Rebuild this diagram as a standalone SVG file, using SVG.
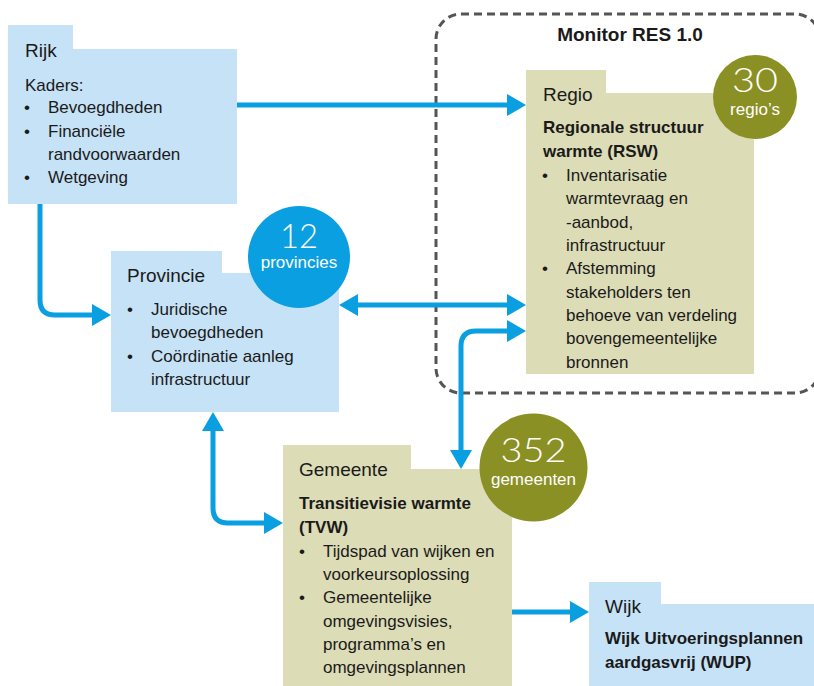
<svg xmlns="http://www.w3.org/2000/svg" width="814" height="686" viewBox="0 0 814 686">
<style>
text{font-family:"Liberation Sans",Arial,sans-serif;fill:#1a1a1a}
.t{font-size:19px}
.b{font-size:17px}
.bb{font-size:17px;font-weight:bold}
.blt{font-size:17px;text-anchor:middle}
.blue{fill:#c6e2f6}
.olive{fill:#dcdcb6}
.num{fill:#fff;text-anchor:middle;font-family:Lato,"Liberation Sans",sans-serif;font-weight:300}
.lbl{fill:#fff;text-anchor:middle;font-size:17px}
.ar{fill:none;stroke:#0a9fe0;stroke-width:5}
</style>
<defs>
<marker id="ah" markerUnits="userSpaceOnUse" markerWidth="20" markerHeight="24" refX="1" refY="12" orient="auto-start-reverse" viewBox="0 0 20 24">
<path d="M0,1 L19,12 L0,23 Z" fill="#0a9fe0"/>
</marker>
</defs>

<rect id="monitor-frame" x="436" y="14" width="384" height="379" rx="25" fill="none" stroke="#555" stroke-width="3" stroke-dasharray="8 5"/>
<text x="630" y="41" text-anchor="middle" style="font-size:19px;font-weight:bold">Monitor RES 1.0</text>

<g id="rijk">
<path class="blue" d="M8,25 H73 V49 H237 V204 H8 Z"/>
<text class="t" x="25" y="57">Rijk</text>
<text class="b" x="25" y="91">Kaders:</text>
<text class="blt" x="27" y="113">•</text><text class="b" x="48" y="113">Bevoegdheden</text>
<text class="blt" x="27" y="137">•</text><text class="b" x="48" y="137">Financiële</text>
<text class="b" x="48" y="160">randvoorwaarden</text>
<text class="blt" x="27" y="183">•</text><text class="b" x="48" y="183">Wetgeving</text>
</g>

<g id="regio">
<path class="olive" d="M526,70 H606 V93 H754 V374 H526 Z"/>
<text class="t" x="543" y="101">Regio</text>
<text class="bb" x="543" y="133">Regionale structuur</text>
<text class="bb" x="543" y="156.5">warmte (RSW)</text>
<text class="blt" x="545" y="181">•</text><text class="b" x="566" y="181">Inventarisatie</text>
<text class="b" x="566" y="204.3">warmtevraag en</text>
<text class="b" x="566" y="227.6">-aanbod,</text>
<text class="b" x="566" y="251">infrastructuur</text>
<text class="blt" x="545" y="274.3">•</text><text class="b" x="566" y="274.3">Afstemming</text>
<text class="b" x="566" y="297.6">stakeholders ten</text>
<text class="b" x="566" y="321">behoeve van verdeling</text>
<text class="b" x="566" y="344.3">bovengemeentelijke</text>
<text class="b" x="566" y="367.6">bronnen</text>
</g>
<g id="regio-count">
<circle cx="755" cy="97" r="42" fill="#8b9024"/>
<text class="num" x="755" y="92" style="font-size:33px" textLength="46" lengthAdjust="spacingAndGlyphs">30</text>
<text class="lbl" x="755" y="115">regio’s</text>
</g>

<g id="provincie">
<path class="blue" d="M111,251 H222 V273 H339 V412 H111 Z"/>
<text class="t" x="127" y="282">Provincie</text>
<text class="blt" x="130" y="315">•</text><text class="b" x="151" y="315">Juridische</text>
<text class="b" x="151" y="338.3">bevoegdheden</text>
<text class="blt" x="130" y="361.6">•</text><text class="b" x="151" y="361.6">Coördinatie aanleg</text>
<text class="b" x="151" y="385">infrastructuur</text>
</g>
<g id="provincie-count">
<circle cx="299" cy="257" r="51" fill="#0a9fe0"/>
<text class="num" x="299" y="248" style="font-size:33px" textLength="38" lengthAdjust="spacingAndGlyphs">12</text>
<text class="lbl" x="299" y="268">provincies</text>
</g>

<g id="gemeente">
<path class="olive" d="M283,445 H411 V469 H512 V686 H283 Z"/>
<text class="t" x="299" y="476">Gemeente</text>
<text class="bb" x="299" y="509">Transitievisie warmte</text>
<text class="bb" x="299" y="533">(TVW)</text>
<text class="blt" x="302" y="557">•</text><text class="b" x="323" y="557">Tijdspad van wijken en</text>
<text class="b" x="323" y="580">voorkeursoplossing</text>
<text class="blt" x="302" y="603">•</text><text class="b" x="323" y="603">Gemeentelijke</text>
<text class="b" x="323" y="627">omgevingsvisies,</text>
<text class="b" x="323" y="650">programma’s en</text>
<text class="b" x="323" y="673">omgevingsplannen</text>
</g>
<g id="gemeente-count">
<circle cx="533.5" cy="467.5" r="54" fill="#8b9024"/>
<text class="num" x="533.5" y="462" style="font-size:34px" textLength="66" lengthAdjust="spacingAndGlyphs">352</text>
<text class="lbl" x="533.5" y="485">gemeenten</text>
</g>

<g id="wijk">
<path class="blue" d="M589,582 H661 V604 H814 V686 H589 Z"/>
<text class="t" x="605" y="613">Wijk</text>
<text class="bb" x="605" y="644">Wijk Uitvoeringsplannen</text>
<text class="bb" x="605" y="668">aardgasvrij (WUP)</text>
</g>

<g id="connectors">
<path class="ar" d="M237,105 H508" marker-end="url(#ah)"/>
<path class="ar" d="M40,204 V300 Q40,315 55,315 H93" marker-end="url(#ah)"/>
<path class="ar" d="M357,305 H508" marker-start="url(#ah)" marker-end="url(#ah)"/>
<path class="ar" d="M508,331 H476 Q461,331 461,346 V451" marker-start="url(#ah)" marker-end="url(#ah)"/>
<path class="ar" d="M213,430 V508 Q213,523 228,523 H265" marker-start="url(#ah)" marker-end="url(#ah)"/>
<path class="ar" d="M512,612 H571" marker-end="url(#ah)"/>
</g>
</svg>
